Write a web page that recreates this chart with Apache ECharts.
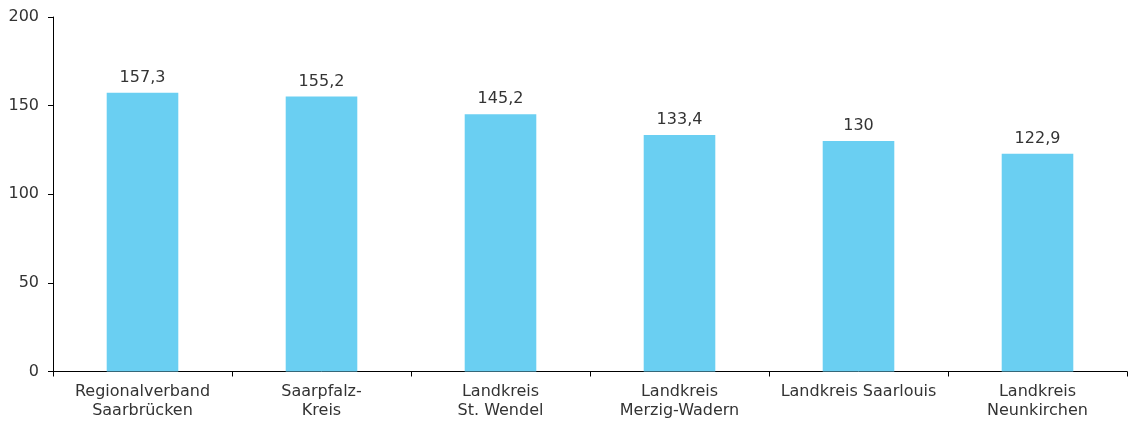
<!DOCTYPE html>
<html><head><meta charset="utf-8">
<script src="https://cdn.jsdelivr.net/npm/echarts@6/dist/echarts.min.js"></script>
<style>html,body{margin:0;padding:0;background:#fff}#c{width:1130px;height:423px}</style>
</head><body><div id="c"></div>
<script>
const categories = ["Regionalverband\nSaarbrücken","Saarpfalz-\nKreis","Landkreis\nSt. Wendel","Landkreis\nMerzig-Wadern","Landkreis Saarlouis","Landkreis\nNeunkirchen"];
const values = [157.3,155.2,145.2,133.4,130,122.9];
const yTicks = {min:0,max:200,interval:50};
const font = "'DejaVu Sans', Verdana, sans-serif";
const chart = echarts.init(document.getElementById('c'));
chart.setOption({
  animation:false,
  grid:{left:53,right:3,top:17,bottom:51.5},
  xAxis:{type:'category',data:categories,
    axisLine:{lineStyle:{color:'#000',width:1}},
    axisTick:{show:true,length:5,lineStyle:{color:'#000'}},
    axisLabel:{fontFamily:font,fontSize:16,color:'#333',margin:11,lineHeight:19,interval:0}},
  yAxis:{type:'value',min:yTicks.min,max:yTicks.max,interval:yTicks.interval,
    splitLine:{show:false},
    axisLine:{show:true,lineStyle:{color:'#000',width:1}},
    axisTick:{show:true,length:5,lineStyle:{color:'#000'}},
    axisLabel:{fontFamily:font,fontSize:16,color:'#333',margin:14}},
  series:[{type:'bar',data:values,barWidth:'40%',
    itemStyle:{color:'#6ACFF2'},
    label:{show:true,position:'top',distance:7,fontFamily:font,fontSize:16,color:'#333',
      formatter:p=>String(p.value).replace('.',',')}}]
});
</script></body></html>
